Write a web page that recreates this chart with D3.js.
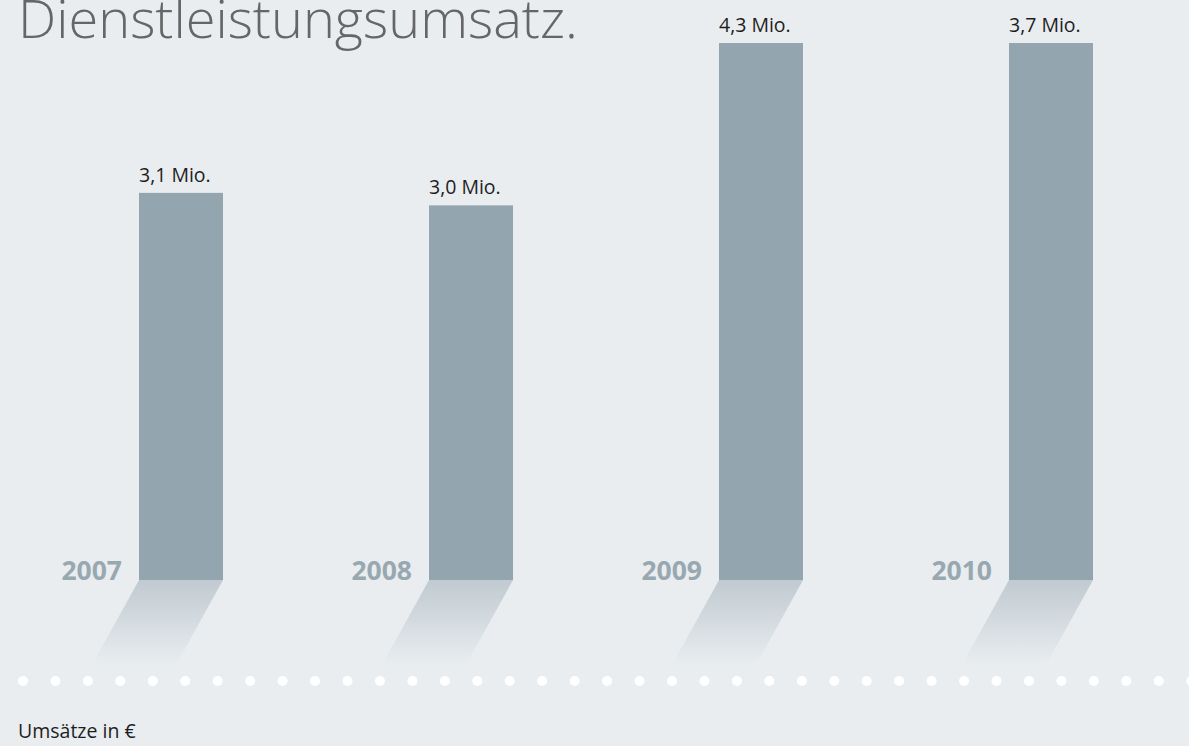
<!DOCTYPE html>
<html>
<head>
<meta charset="utf-8">
<script src="https://cdn.jsdelivr.net/npm/d3@7"></script>
<style>
  html, body { margin: 0; padding: 0; background: #e9edf0; }
  svg { display: block; }
</style>
</head>
<body>
<div id="chart"></div>
<script>
// chart data
var years = ["2007", "2008", "2009", "2010"];
// bar heights as drawn in the picture (the 2010 bar reaches the 2009 height)
var barValues = [3.1, 3.0, 4.3, 4.3];
// printed values above the bars
var labelValues = [3.1, 3.0, 4.3, 3.7];
var title = "Dienstleistungsumsatz.";
var footnote = "Umsätze in €";

var width = 1189, height = 746;

var svg = d3.select("#chart")
  .append("svg")
  .attr("width", width)
  .attr("height", height);

svg.append("rect")
  .attr("width", width)
  .attr("height", height)
  .attr("fill", "#e9edf0");

var defs = svg.append("defs");
var grad = defs.append("linearGradient")
  .attr("id", "shade")
  .attr("x1", 0).attr("y1", 0)
  .attr("x2", 0).attr("y2", 1);
grad.append("stop").attr("offset", "0%").attr("stop-color", "#c0cad0");
grad.append("stop").attr("offset", "100%").attr("stop-color", "#e9edf0");

// scales
var x = d3.scaleBand()
  .domain(years)
  .range([139, 1093])
  .paddingInner(0.7103)
  .paddingOuter(0);

var y = d3.scaleLinear()
  .domain([0, 4.3])
  .range([580, 43]);

var baseY = y(0);
var shadowDepth = 85, shadowShift = 47;

// shadows under the bars
svg.selectAll(".shadow")
  .data(years)
  .enter().append("path")
  .attr("class", "shadow")
  .attr("fill", "url(#shade)")
  .attr("d", function (d) {
    var x0 = x(d), x1 = x(d) + x.bandwidth();
    return "M" + x0 + "," + baseY +
      "L" + x1 + "," + baseY +
      "L" + (x1 - shadowShift) + "," + (baseY + shadowDepth) +
      "L" + (x0 - shadowShift) + "," + (baseY + shadowDepth) + "Z";
  });

// bars
svg.selectAll(".bar")
  .data(years)
  .enter().append("rect")
  .attr("class", "bar")
  .attr("x", d => x(d))
  .attr("width", x.bandwidth())
  .attr("y", (d, i) => y(barValues[i]))
  .attr("height", (d, i) => baseY - y(barValues[i]))
  .attr("fill", "#93a5ae");

// value labels
var fmt = d3.format(".1f");
svg.selectAll(".val")
  .data(years)
  .enter().append("text")
  .attr("class", "val")
  .attr("x", d => x(d))
  .attr("y", (d, i) => y(barValues[i]) - 11)
  .style("font-family", "'Open Sans', sans-serif")
  .style("font-size", "19.5px")
  .style("fill", "#1e1e1e")
  .text((d, i) => fmt(labelValues[i]).replace(".", ",") + " Mio.");

// year labels
svg.selectAll(".year")
  .data(years)
  .enter().append("text")
  .attr("class", "year")
  .attr("x", d => x(d) - 17)
  .attr("y", baseY)
  .attr("text-anchor", "end")
  .style("font-family", "'Open Sans', sans-serif")
  .style("font-weight", "bold")
  .style("font-size", "26.5px")
  .style("fill", "#98a8b1")
  .text(d => d);

// dotted line
var dots = d3.range(23, width + 10, 32.45);
svg.selectAll(".dot")
  .data(dots)
  .enter().append("circle")
  .attr("class", "dot")
  .attr("cx", d => d)
  .attr("cy", 681)
  .attr("r", 5)
  .attr("fill", "#ffffff");

// title
var t = svg.append("text")
  .attr("x", 18)
  .attr("y", 38)
  .style("font-family", "'Open Sans', sans-serif")
  .style("font-weight", 300)
  .style("font-size", "50px")
  .style("fill", "#666666")
  .text(title);
var tw = t.node().getComputedTextLength();
t.style("font-size", (50 * 560 / tw) + "px");

// footnote
svg.append("text")
  .attr("x", 18)
  .attr("y", 738)
  .style("font-family", "'Open Sans', sans-serif")
  .style("font-size", "19.5px")
  .style("fill", "#1e1e1e")
  .text(footnote);
</script>
</body>
</html>
